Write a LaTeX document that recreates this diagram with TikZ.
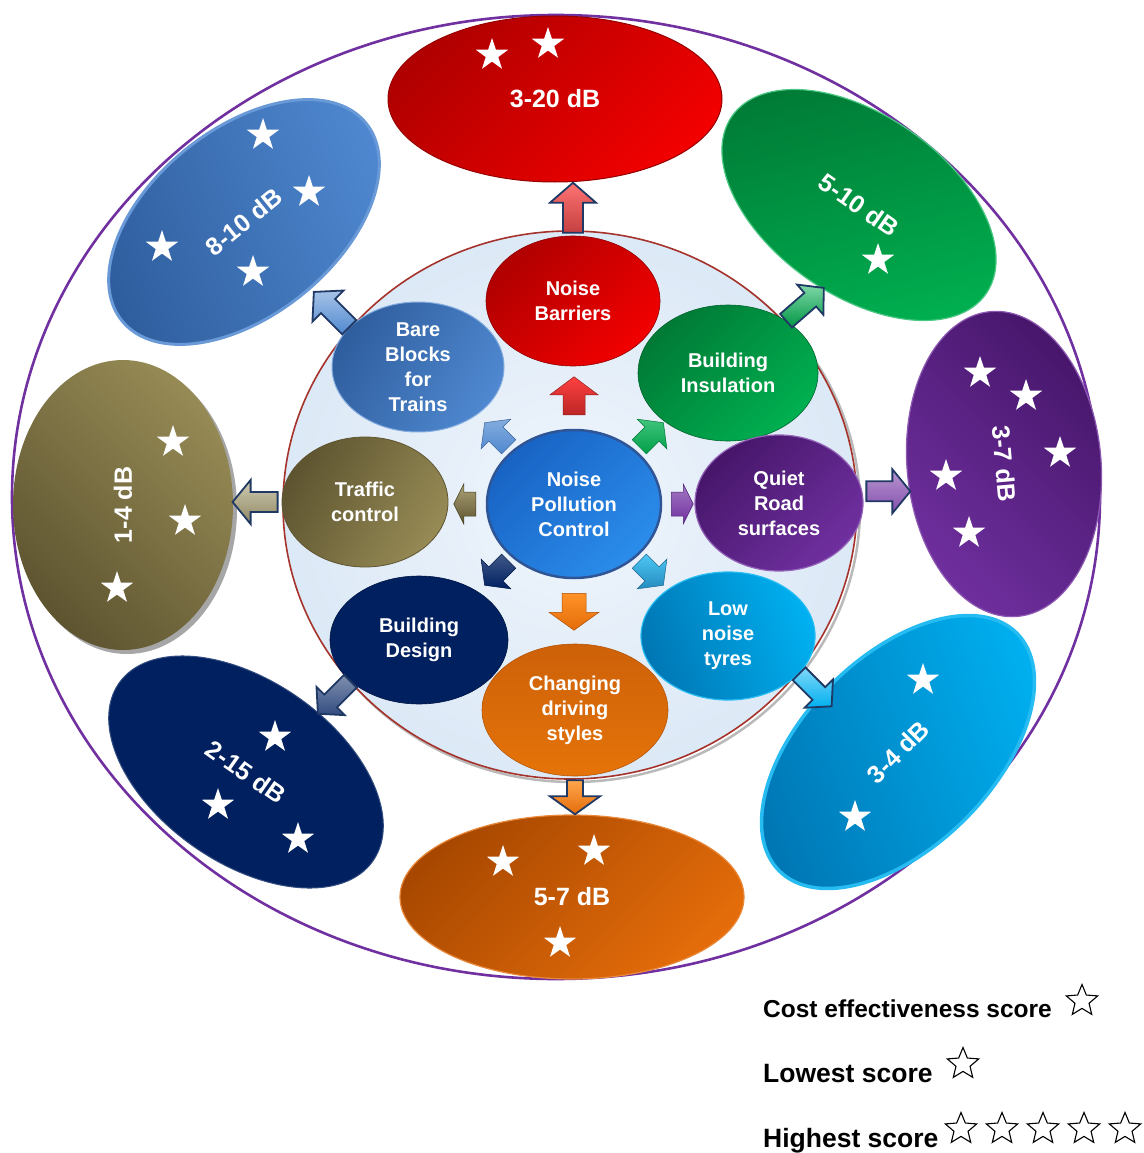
\documentclass[tikz,border=0pt]{standalone}
\usepackage{fontspec}
\setmainfont{Liberation Sans}
\usetikzlibrary{shapes.geometric,calc}

\definecolor{framepurple}{HTML}{7030A0}
\definecolor{hubedge}{HTML}{A5332B}
\definecolor{hubfill}{HTML}{DCE9F6}
\definecolor{hubinner}{HTML}{EFF5FC}
\definecolor{arrowedge}{HTML}{1F3864}
\definecolor{redD}{HTML}{B00000}
\definecolor{redL}{HTML}{F20000}
\definecolor{greenD}{HTML}{007A36}
\definecolor{greenL}{HTML}{00B050}
\definecolor{purpD}{HTML}{46166A}
\definecolor{purpL}{HTML}{7030A0}
\definecolor{cyanD}{HTML}{0077B5}
\definecolor{cyanL}{HTML}{00B0F0}
\definecolor{orgD}{HTML}{A84800}
\definecolor{orgL}{HTML}{E46C0A}
\definecolor{navy}{HTML}{002060}
\definecolor{oliveD}{HTML}{5E5430}
\definecolor{oliveL}{HTML}{968B55}
\definecolor{steelD}{HTML}{2F5E9E}
\definecolor{steelL}{HTML}{4F88D0}
\definecolor{coreD}{HTML}{1863C4}
\definecolor{coreL}{HTML}{2B8DEB}
\definecolor{coreEdge}{HTML}{2F5597}

% block arrow: style, start point, direction, gap, length, half shaft, half head, head length
\newcommand\blockarrow[8]{%
  \path (#2) ++(#3:#4) coordinate (ba-s) ++(#3:#5) coordinate (ba-e);
  \coordinate (ba-h) at ($(ba-e)!#8!(ba-s)$);
  \path[#1] ($(ba-s)!#6!90:(ba-e)$) -- ($(ba-h)!#6!-90:(ba-s)$)
    -- ($(ba-h)!#7!-90:(ba-s)$) -- (ba-e) -- ($(ba-h)!#7!90:(ba-s)$)
    -- ($(ba-h)!#6!90:(ba-s)$) -- ($(ba-s)!#6!-90:(ba-e)$) -- cycle;
}

% five-pointed star outline: outer radius, inner radius
\newcommand\starpath[2]{(90:#1) -- (126:#2) -- (162:#1) -- (198:#2) -- (234:#1)
  -- (270:#2) -- (306:#1) -- (342:#2) -- (18:#1) -- (54:#2) -- cycle}

\begin{document}
\begin{tikzpicture}[x=1pt,y=-1pt,
  every node/.style={font=\bfseries},
  inner/.style={ellipse, inner sep=0pt, text=white, align=center,
    font=\bfseries\fontsize{20}{25}\selectfont},
  outer/.style={ellipse, inner sep=0pt, text=white,
    font=\bfseries\fontsize{25}{30}\selectfont},
  pics/scorestar/.style={code={\fill[white] \starpath{17pt}{6.6pt};}},
  pics/legendstar/.style={code={\draw[black, fill=white, line width=1.1pt,
    line join=miter] \starpath{16.5pt}{7.4pt};}},
  legend/.style={anchor=base west, inner sep=0pt,
    font=\bfseries\fontsize{26.5}{30}\selectfont},
  inarrow/.style 2 args={top color=#1, bottom color=#2, draw=#2!75!black,
    line width=0.5pt, line join=miter},
  outarrow/.style 2 args={top color=#1, bottom color=#2, draw=arrowedge,
    line width=1.8pt, line join=miter},
]
\useasboundingbox (0,0) rectangle (1143,1153);

% outer frame
\node[ellipse, draw=framepurple, line width=2.6pt, minimum width=1088pt,
  minimum height=964pt, inner sep=0pt] (frame) at (556,497) {};

% outer result ellipses (shading angles are taken on the page)
\node[outer, minimum width=334pt, minimum height=166pt, top color=redD,
  bottom color=redL, shading angle=45, draw=redD!85!black, line width=1pt]
  (r320) at (555,99) {3-20 dB};
\node[outer, rotate=-35, minimum width=310pt, minimum height=180pt,
  top color=greenD, bottom color=greenL, shading angle=15,
  draw=greenL!70!white, line width=1.2pt]
  (r510) at (859,205) {5-10 dB};
\node[outer, rotate=-85, minimum width=306pt, minimum height=194pt,
  top color=purpD, bottom color=purpL, shading angle=-45,
  draw=purpL!80!white, line width=1.2pt]
  (r37) at (1004,464) {3-7 dB};
\node[outer, rotate=45, minimum width=336pt, minimum height=190pt,
  top color=cyanD, bottom color=cyanL, shading angle=110,
  draw=cyanL!85!white, line width=3.5pt]
  (r34) at (898,752) {3-4 dB};
\node[outer, minimum width=344pt, minimum height=164pt, top color=orgD,
  bottom color=orgL, shading angle=45, draw=orgL!80!white, line width=1.2pt]
  (r57) at (572,897) {5-7 dB};
\node[outer, rotate=-35, minimum width=310pt, minimum height=182pt,
  fill=navy, draw=navy!80!white, line width=1pt]
  (r215) at (246,772) {2-15 dB};
\node[ellipse, minimum width=290pt, minimum height=220pt, rotate=90,
  fill=gray!70, inner sep=0pt] (r14-rim) at (127,509) {};
\node[outer, rotate=90, minimum width=290pt, minimum height=220pt,
  top color=oliveD, bottom color=oliveL, shading angle=135]
  (r14) at (123,505) {1-4 dB};
\node[outer, rotate=39, minimum width=314pt, minimum height=186pt,
  top color=steelD, bottom color=steelL, shading angle=110,
  draw=steelL!85!white, line width=3pt]
  (r810) at (244,222) {8-10 dB};

% central hub
\node[ellipse, minimum width=574pt, minimum height=548pt, inner sep=0pt,
  draw=gray!55, line width=2.5pt] (hub-shadow) at (573,508) {};
\node[ellipse, minimum width=574pt, minimum height=548pt, inner sep=0pt,
  inner color=hubinner, outer color=hubfill, draw=hubedge, line width=1.6pt]
  (hub) at (570,505) {};

% measures
\node[inner, minimum width=174pt, minimum height=130pt, top color=redD,
  bottom color=redL, shading angle=45, draw=redD!80!black, line width=0.6pt]
  (nb) at (573,301) {Noise\\Barriers};
\node[inner, minimum width=180pt, minimum height=136pt, top color=greenD,
  bottom color=greenL, shading angle=45, draw=greenD!80!black, line width=0.6pt]
  (bi) at (728,373) {Building\\Insulation};
\node[inner, minimum width=168pt, minimum height=136pt, top color=purpD,
  bottom color=purpL, shading angle=45, draw=purpL!75!white, line width=1.2pt]
  (qrs) at (779,503) {Quiet\\Road\\surfaces};
\node[inner, minimum width=174pt, minimum height=128pt, left color=cyanD,
  right color=cyanL, shading angle=110, draw=cyanL!85!white, line width=1.2pt]
  (lnt) at (728,636) {Low\\noise\\tyres};
\node[inner, minimum width=186pt, minimum height=132pt, top color=orgL!90!black,
  bottom color=orgL!95!yellow, draw=orgL!80!black, line width=0.6pt]
  (cds) at (575,710) {Changing\\driving\\styles};
\node[inner, minimum width=178pt, minimum height=128pt, fill=navy,
  draw=navy!70!black, line width=0.6pt]
  (bd) at (419,640) {Building\\Design};
\node[inner, minimum width=166pt, minimum height=130pt, top color=oliveD,
  bottom color=oliveL, shading angle=60, draw=oliveD, line width=0.8pt]
  (tc) at (365,502) {Traffic\\control};
\node[inner, minimum width=172pt, minimum height=130pt, top color=steelD,
  bottom color=steelL, shading angle=60, draw=steelL!70!white, line width=1pt]
  (bbt) at (418,367) {Bare\\Blocks\\for\\Trains};
\node[inner, minimum width=174pt, minimum height=148pt, top color=coreD,
  bottom color=coreL, shading angle=45, draw=coreEdge, line width=2.5pt]
  (npc) at (574,504) {Noise\\Pollution\\Control};

% arrows from the core to the measures
\blockarrow{inarrow={red!75!white}{redD!85!white}}{npc.90}{90}{14pt}{38pt}{11pt}{24pt}{18pt}
\blockarrow{inarrow={greenL!75!white}{greenL!90!black}}{npc.41}{45}{5pt}{34pt}{10pt}{21pt}{16pt}
\blockarrow{inarrow={purpL!65!white}{purpL}}{npc.0}{0}{9pt}{22pt}{12pt}{20pt}{10pt}
\blockarrow{inarrow={cyanL!70!white}{cyanD!85!white}}{npc.-41}{-45}{5pt}{34pt}{10pt}{21pt}{16pt}
\blockarrow{inarrow={orange!85!white}{orgL}}{npc.-90}{-90}{14pt}{37pt}{12pt}{25pt}{18pt}
\blockarrow{inarrow={navy!75!white}{navy}}{npc.-139}{-135}{5pt}{34pt}{10pt}{21pt}{16pt}
\blockarrow{inarrow={oliveL!80!white}{oliveD}}{npc.180}{180}{10pt}{22pt}{12pt}{20pt}{10pt}
\blockarrow{inarrow={steelL!70!white}{steelL}}{npc.139}{135}{5pt}{34pt}{10pt}{21pt}{16pt}

% arrows from the measures to their results
\blockarrow{outarrow={red!55!white}{redD!75!white}}{nb.90}{90}{3pt}{50pt}{10pt}{23pt}{20pt}
\blockarrow{outarrow={greenL!50!white}{greenL!85!black}}{bi.42}{41}{0pt}{50pt}{9pt}{20pt}{18pt}
\blockarrow{outarrow={purpL!50!white}{purpL!85!white}}{qrs.8}{0}{4pt}{44pt}{10pt}{22pt}{18pt}
\blockarrow{outarrow={cyanL!50!white}{cyanL}}{lnt.-28}{-45}{0pt}{46pt}{9pt}{20pt}{18pt}
\blockarrow{outarrow={orange!70!white}{orgL}}{cds.-90}{-90}{4pt}{34pt}{8pt}{25pt}{18pt}
\blockarrow{outarrow={navy!50!white}{navy!80!white}}{bd.-149}{-135}{0pt}{46pt}{9pt}{20pt}{18pt}
\blockarrow{outarrow={oliveL!45!white}{oliveL!70!gray}}{tc.180}{180}{4pt}{45pt}{10pt}{22pt}{18pt}
\blockarrow{outarrow={steelL!50!white}{steelL}}{bbt.150}{135}{0pt}{50pt}{10pt}{22pt}{20pt}

% cost-effectiveness stars
\foreach \p in {(492,55),(548,44),(878,260),
  (980,373),(1026,396),(1060,453),(946,476),(969,533),
  (923,680),(855,817),(503,862),(594,851),(560,943),
  (275,737),(218,805),(298,839),(173,442),(185,521),(117,588),
  (263,135),(309,192),(162,247),(253,272)}
  \pic at \p {scorestar};

% legend
\node[legend, font=\bfseries\fontsize{24.5}{28}\selectfont] (lg-cost) at (763,1017)
  {Cost effectiveness score};
\pic at (1082,1001) {legendstar};
\node[legend] (lg-low) at (763,1082) {Lowest score};
\pic at (963,1064) {legendstar};
\node[legend] (lg-high) at (763,1147) {Highest score};
\foreach \x in {961,1002,1043,1084,1125}
  \pic at (\x,1129) {legendstar};
\end{tikzpicture}
\end{document}
